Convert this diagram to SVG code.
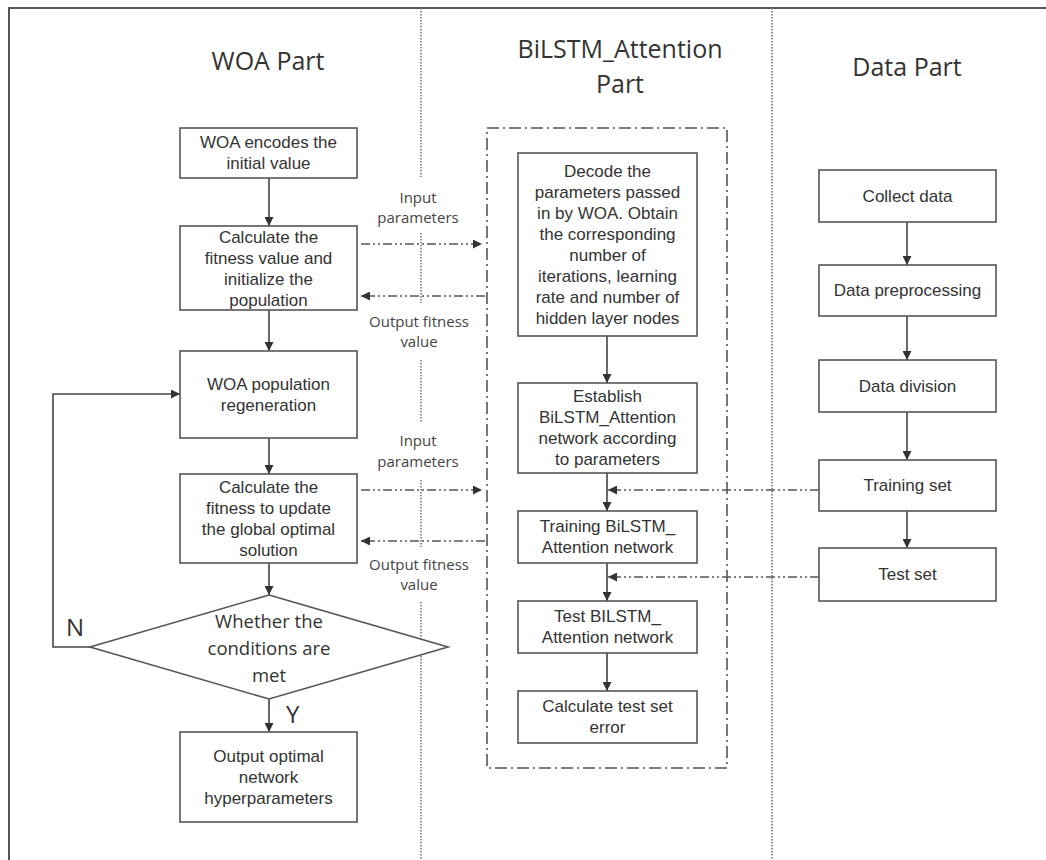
<svg xmlns="http://www.w3.org/2000/svg" width="1046" height="860" viewBox="0 0 1046 860">
<style>
.box{fill:#fff;stroke:#555;stroke-width:1.6}
.t{font-family:"Liberation Sans",Arial,sans-serif;font-size:17px;fill:#333;text-anchor:middle}
.h{font-family:"Open Sans","Noto Sans",sans-serif;font-size:25px;fill:#333;text-anchor:middle}
.d{font-family:"Open Sans","Noto Sans",sans-serif;font-size:18.5px;fill:#333;text-anchor:middle}
.lab{font-family:"Open Sans","Noto Sans",sans-serif;font-size:15px;fill:#444;text-anchor:middle}
.yn{font-family:"Open Sans","Noto Sans",sans-serif;font-size:24px;fill:#333}
.sol{fill:none;stroke:#444;stroke-width:1.6}
.dd{fill:none;stroke:#555;stroke-width:1.5;stroke-dasharray:9 3 2 3 2 3}
.div{fill:none;stroke:#777;stroke-width:1.6;stroke-dasharray:1.5 1.5}
.frame{fill:none;stroke:#555;stroke-width:2}
.cont{fill:none;stroke:#555;stroke-width:1.6;stroke-dasharray:12 4 2 4}
</style>
<defs>
<marker id="arr" markerUnits="userSpaceOnUse" markerWidth="9" markerHeight="9" viewBox="0 0 10 10" refX="10" refY="5" orient="auto">
<path d="M0,0 L10,5 L0,10 z" fill="#333"/>
</marker>
</defs>
<rect width="1046" height="860" fill="#fff"/>
<g id="frame">
<path class="frame" d="M9,860 L9,8 L1046,8"/>
<path class="div" d="M421,8 V177 M421,233 V303 M421,360 V422 M421,480 V547 M421,602 V860"/>
<path class="div" d="M772,8 V860"/>
<rect class="cont" x="487" y="128" width="240" height="640"/>
</g>
<g id="titles">
<text class="h" x="268" y="70">WOA Part</text>
<text class="h" x="620" y="58">BiLSTM_Attention</text>
<text class="h" x="620" y="93">Part</text>
<text class="h" x="907" y="76">Data Part</text>
</g>
<g id="connectors">
<path class="sol" marker-end="url(#arr)" d="M269,178 V226"/>
<path class="sol" marker-end="url(#arr)" d="M269,310 V351"/>
<path class="sol" marker-end="url(#arr)" d="M269,438 V474"/>
<path class="sol" marker-end="url(#arr)" d="M269,563 V595"/>
<path class="sol" marker-end="url(#arr)" d="M269,699 V732"/>
<path class="sol" marker-end="url(#arr)" d="M90,647 H53 V394 H180"/>
<path class="sol" marker-end="url(#arr)" d="M607,336 V383"/>
<path class="sol" marker-end="url(#arr)" d="M607,473 V511"/>
<path class="sol" marker-end="url(#arr)" d="M607,563 V601"/>
<path class="sol" marker-end="url(#arr)" d="M607,653 V691"/>
<path class="sol" marker-end="url(#arr)" d="M907,222 V265"/>
<path class="sol" marker-end="url(#arr)" d="M907,316 V360"/>
<path class="sol" marker-end="url(#arr)" d="M907,412 V460"/>
<path class="sol" marker-end="url(#arr)" d="M907,511 V548"/>
<path class="dd" marker-end="url(#arr)" d="M361,244 H482"/>
<path class="dd" marker-end="url(#arr)" d="M485,296 H361"/>
<path class="dd" marker-end="url(#arr)" d="M361,490 H482"/>
<path class="dd" marker-end="url(#arr)" d="M485,541 H361"/>
<path class="dd" marker-end="url(#arr)" d="M819,490 H608"/>
<path class="dd" marker-end="url(#arr)" d="M819,577 H608"/>
<text class="lab" x="418" y="203">Input</text>
<text class="lab" x="418" y="223">parameters</text>
<text class="lab" x="419" y="327">Output fitness</text>
<text class="lab" x="419" y="347">value</text>
<text class="lab" x="418" y="446">Input</text>
<text class="lab" x="418" y="467">parameters</text>
<text class="lab" x="419" y="570">Output fitness</text>
<text class="lab" x="419" y="590">value</text>
<text class="yn" x="66" y="636">N</text>
<text class="yn" x="286" y="723">Y</text>
</g>
<g id="woa1"><rect class="box" x="180" y="128" width="177" height="50"/>
<text class="t" x="268.5" y="148">WOA encodes the</text><text class="t" x="268.5" y="169">initial value</text></g>
<g id="woa2"><rect class="box" x="180" y="226" width="177" height="84"/>
<text class="t" x="268.5" y="243">Calculate the</text><text class="t" x="268.5" y="264">fitness value and</text><text class="t" x="268.5" y="285">initialize the</text><text class="t" x="268.5" y="306">population</text></g>
<g id="woa3"><rect class="box" x="180" y="351" width="177" height="87"/>
<text class="t" x="268.5" y="390">WOA population</text><text class="t" x="268.5" y="411">regeneration</text></g>
<g id="woa4"><rect class="box" x="180" y="474" width="177" height="89"/>
<text class="t" x="268.5" y="493">Calculate the</text><text class="t" x="268.5" y="514">fitness to update</text><text class="t" x="268.5" y="535">the global optimal</text><text class="t" x="268.5" y="556">solution</text></g>
<g id="cond"><path class="box" d="M269,595 L448,647 L269,699 L90,647 z"/>
<text class="d" x="269" y="628">Whether the</text><text class="d" x="269" y="655">conditions are</text><text class="d" x="269" y="682">met</text></g>
<g id="woa5"><rect class="box" x="180" y="732" width="177" height="90"/>
<text class="t" x="268.5" y="762">Output optimal</text><text class="t" x="268.5" y="783">network</text><text class="t" x="268.5" y="804">hyperparameters</text></g>
<g id="b1"><rect class="box" x="518" y="153" width="179" height="183"/>
<text class="t" x="607.5" y="177">Decode the</text><text class="t" x="607.5" y="198">parameters passed</text><text class="t" x="607.5" y="219">in by WOA. Obtain</text><text class="t" x="607.5" y="240">the corresponding</text><text class="t" x="607.5" y="261">number of</text><text class="t" x="607.5" y="282">iterations, learning</text><text class="t" x="607.5" y="303">rate and number of</text><text class="t" x="607.5" y="324">hidden layer nodes</text></g>
<g id="b2"><rect class="box" x="518" y="383" width="179" height="90"/>
<text class="t" x="607.5" y="402">Establish</text><text class="t" x="607.5" y="423">BiLSTM_Attention</text><text class="t" x="607.5" y="444">network according</text><text class="t" x="607.5" y="465">to parameters</text></g>
<g id="b3"><rect class="box" x="518" y="511" width="179" height="52"/>
<text class="t" x="607.5" y="532">Training BiLSTM_</text><text class="t" x="607.5" y="553">Attention network</text></g>
<g id="b4"><rect class="box" x="518" y="601" width="179" height="52"/>
<text class="t" x="607.5" y="622">Test BILSTM_</text><text class="t" x="607.5" y="643">Attention network</text></g>
<g id="b5"><rect class="box" x="518" y="691" width="179" height="52"/>
<text class="t" x="607.5" y="712">Calculate test set</text><text class="t" x="607.5" y="733">error</text></g>
<g id="d1"><rect class="box" x="819" y="170" width="177" height="52"/><text class="t" x="907.5" y="202">Collect data</text></g>
<g id="d2"><rect class="box" x="819" y="265" width="177" height="51"/><text class="t" x="907.5" y="296">Data preprocessing</text></g>
<g id="d3"><rect class="box" x="819" y="360" width="177" height="52"/><text class="t" x="907.5" y="392">Data division</text></g>
<g id="d4"><rect class="box" x="819" y="460" width="177" height="51"/><text class="t" x="907.5" y="491">Training set</text></g>
<g id="d5"><rect class="box" x="819" y="548" width="177" height="53"/><text class="t" x="907.5" y="580">Test set</text></g>
</svg>
